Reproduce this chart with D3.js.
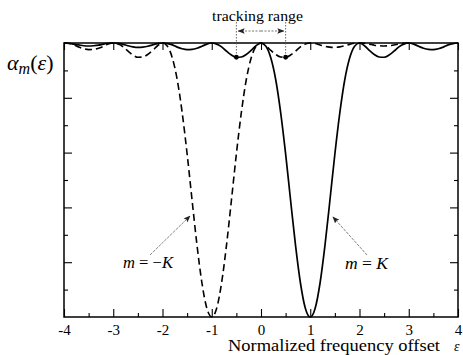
<!DOCTYPE html>
<html><head><meta charset="utf-8">
<script src="https://cdn.jsdelivr.net/npm/d3@7"></script>
<style>body{margin:0;background:#fff}svg{display:block}</style>
</head><body>
<svg id="c" width="463" height="355"></svg>
<script>
// ---- data ----
const epsilon = [-4.0,-3.9,-3.8,-3.7,-3.6,-3.5,-3.4,-3.3,-3.2,-3.1,
  -3.0,-2.9,-2.8,-2.7,-2.6,-2.5,-2.4,-2.3,-2.2,-2.1,
  -2.0,-1.9,-1.8,-1.7,-1.6,-1.5,-1.4,-1.3,-1.2,-1.1,
  -1.0,-0.9,-0.8,-0.7,-0.6,-0.5,-0.4,-0.3,-0.2,-0.1,
  0.0,0.1,0.2,0.3,0.4,0.5,0.6,0.7,0.8,0.9,
  1.0,1.1,1.2,1.3,1.4,1.5,1.6,1.7,1.8,1.9,
  2.0,2.1,2.2,2.3,2.4,2.5,2.6,2.7,2.8,2.9,
  3.0,3.1,3.2,3.3,3.4,3.5,3.6,3.7,3.8,3.9,4.0];
// m = K (solid)
const alphaPlusK = [1.000,0.999,0.996,0.993,0.990,0.989,0.990,0.992,0.996,0.999,
  1.000,0.999,0.995,0.990,0.986,0.984,0.985,0.988,0.993,0.998,
  1.000,0.998,0.993,0.985,0.979,0.976,0.977,0.981,0.988,0.996,
  1.000,0.996,0.986,0.970,0.956,0.948,0.949,0.958,0.973,0.990,
  1.000,0.988,0.945,0.865,0.745,0.595,0.427,0.263,0.125,0.032,
  0.000,0.032,0.125,0.263,0.427,0.595,0.745,0.865,0.945,0.988,
  1.000,0.990,0.973,0.958,0.949,0.948,0.956,0.970,0.986,0.996,
  1.000,0.996,0.988,0.981,0.977,0.976,0.979,0.985,0.993,0.998,1.000];
// m = -K (dashed)
const alphaMinusK = [1.000,
  0.998,0.993,0.985,0.979,0.976,0.977,0.981,0.988,0.996,1.000,
  0.996,0.986,0.970,0.956,0.948,0.949,0.958,0.973,0.990,1.000,
  0.988,0.945,0.865,0.745,0.595,0.427,0.263,0.125,0.032,0.000,
  0.032,0.125,0.263,0.427,0.595,0.745,0.865,0.945,0.988,1.000,
  0.990,0.973,0.958,0.949,0.948,0.956,0.970,0.986,0.996,1.000,
  0.998,0.993,0.988,0.985,0.984,0.986,0.990,0.995,0.999,1.000,
  0.999,0.996,0.992,0.990,0.989,0.990,0.993,0.996,0.999,1.000];
const xTicks = [-4,-3,-2,-1,0,1,2,3,4];
const xTickLabels = ["-4","-3","-2","-1","0","1","2","3","4"];
const xMinorTicks = [-3.5,-2.5,-1.5,-0.5,0.5,1.5,2.5,3.5];
const yMajorTicks = [0.2,0.4,0.6,0.8];
const yMinorTicks = [0.1,0.3,0.5,0.7,0.9];
const trackingRange = [-0.5, 0.5];

// ---- layout ----
const L = 64, R = 458, T = 43, B = 317;
const svg = d3.select("#c");
const x = d3.scaleLinear().domain([-4,4]).range([L,R]);
const y = d3.scaleLinear().domain([0,1]).range([B,T]);
const serif = "'Liberation Serif','Times New Roman',serif";

svg.append("defs").html(`
  <clipPath id="clip"><rect x="${L}" y="${T-1}" width="${R-L}" height="${B-T+2}"/></clipPath>
  <marker id="ah" viewBox="0 0 10 10" refX="9" refY="5" markerWidth="7" markerHeight="7" orient="auto-start-reverse" markerUnits="userSpaceOnUse">
    <path d="M0,1 L10,5 L0,9 L2,5 Z" fill="#222"/></marker>
`);

// axes (inward ticks)
function styleAxis(g){ g.select(".domain").remove(); g.selectAll("line").attr("stroke","#000").attr("stroke-width",1.1); }
svg.append("g").attr("transform",`translate(0,${B})`)
  .call(d3.axisBottom(x).tickValues(xTicks).tickSize(-8).tickPadding(7).tickFormat((d,i)=>xTickLabels[i]))
  .call(styleAxis)
  .call(g=>g.selectAll("text").attr("font-family",serif).attr("font-size",15).attr("fill","#000"));
svg.append("g").attr("transform",`translate(0,${B})`)
  .call(d3.axisBottom(x).tickValues(xMinorTicks).tickSize(-4).tickFormat("")).call(styleAxis);
svg.append("g").attr("transform",`translate(0,${T})`)
  .call(d3.axisTop(x).tickValues(xTicks).tickSize(-7).tickFormat("")).call(styleAxis);
[[d3.axisLeft, L],[d3.axisRight, R]].forEach(([ax,pos])=>{
  svg.append("g").attr("transform",`translate(${pos},0)`)
    .call(ax(y).tickValues(yMajorTicks).tickSize(-8).tickFormat("")).call(styleAxis);
  svg.append("g").attr("transform",`translate(${pos},0)`)
    .call(ax(y).tickValues(yMinorTicks).tickSize(-4).tickFormat("")).call(styleAxis);
});

// curves
const line = d3.line().x((d,i)=>x(epsilon[i])).y(d=>y(d)).curve(d3.curveMonotoneX);
const plot = svg.append("g").attr("clip-path","url(#clip)");
plot.append("path").attr("d",line(alphaMinusK)).attr("fill","none").attr("stroke","#000")
  .attr("stroke-width",1.6).attr("stroke-dasharray","7,4");
plot.append("path").attr("d",line(alphaPlusK)).attr("fill","none").attr("stroke","#000")
  .attr("stroke-width",1.7);

// frame
svg.append("rect").attr("x",L).attr("y",T).attr("width",R-L).attr("height",B-T)
  .attr("fill","none").attr("stroke","#000").attr("stroke-width",1.5);

// tracking range annotation
const iLeft = epsilon.findIndex(e=>Math.abs(e-trackingRange[0])<1e-9);
const iRight = epsilon.findIndex(e=>Math.abs(e-trackingRange[1])<1e-9);
const pts = [[x(trackingRange[0]), y(alphaPlusK[iLeft])],[x(trackingRange[1]), y(alphaMinusK[iRight])]];
pts.forEach(([px,py])=>{
  svg.append("line").attr("x1",px).attr("x2",px).attr("y1",22).attr("y2",py)
    .attr("stroke","#555").attr("stroke-width",0.9).attr("stroke-dasharray","1.5,1.5");
  svg.append("circle").attr("cx",px).attr("cy",py).attr("r",2.4).attr("fill","#000");
});
svg.append("line").attr("x1",(pts[0][0]+pts[1][0])/2).attr("x2",pts[0][0]+2).attr("y1",31).attr("y2",31)
  .attr("stroke","#666").attr("stroke-width",0.9).attr("stroke-dasharray","2,1.5").attr("marker-end","url(#ah)");
svg.append("line").attr("x1",(pts[0][0]+pts[1][0])/2).attr("x2",pts[1][0]-2).attr("y1",31).attr("y2",31)
  .attr("stroke","#666").attr("stroke-width",0.9).attr("stroke-dasharray","2,1.5").attr("marker-end","url(#ah)");
svg.append("text").attr("x",212).attr("y",21)
  .attr("font-family",serif).attr("font-size",15).attr("textLength",91).attr("lengthAdjust","spacingAndGlyphs")
  .text("tracking range");

// y label  α_m(ε)
const yl = svg.append("text").attr("x",7).attr("y",70).attr("font-family",serif).attr("font-size",22);
yl.append("tspan").attr("font-style","italic").text("α");
yl.append("tspan").attr("font-style","italic").attr("font-size",16).attr("dy",4).text("m");
yl.append("tspan").attr("dy",-4).text("(");
yl.append("tspan").attr("font-style","italic").text("ε");
yl.append("tspan").text(")");

// x label
svg.append("text").attr("x",228).attr("y",351).attr("font-family",serif).attr("font-size",16)
  .attr("textLength",212).attr("lengthAdjust","spacingAndGlyphs").text("Normalized frequency offset");
svg.append("text").attr("x",454).attr("y",351).attr("font-family",serif).attr("font-size",14)
  .attr("font-style","italic").text("ε");

// curve labels
function mlabel(xp, yp, k, w){
  const t = svg.append("text").attr("x",xp).attr("y",yp).attr("font-family",serif).attr("font-size",16)
    .attr("textLength",w).attr("lengthAdjust","spacingAndGlyphs");
  t.append("tspan").attr("font-style","italic").text("m");
  t.append("tspan").text(k==="-" ? " = −" : " = ");
  t.append("tspan").attr("font-style","italic").text("K");
}
mlabel(123, 268, "-", 50);
mlabel(345, 269, "+", 43);
svg.append("line").attr("x1",150).attr("y1",255).attr("x2",190).attr("y2",216)
  .attr("stroke","#777").attr("stroke-width",0.9).attr("stroke-dasharray","3,1").attr("marker-end","url(#ah)");
svg.append("line").attr("x1",367).attr("y1",255).attr("x2",333).attr("y2",217)
  .attr("stroke","#777").attr("stroke-width",0.9).attr("stroke-dasharray","3,1").attr("marker-end","url(#ah)");
</script>
</body></html>
